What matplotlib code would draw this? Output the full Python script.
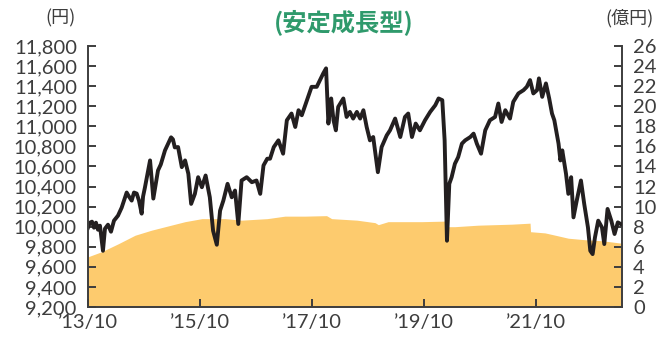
import matplotlib
matplotlib.use("Agg")
import matplotlib.pyplot as plt
from matplotlib.ticker import FuncFormatter

plt.rcParams['font.family'] = ['Lato', 'DejaVu Sans', 'Noto Sans CJK JP']

# months elapsed since 2013/10, and NAV (円)
nav_month = [0.0, 0.43, 0.86, 1.29, 1.71, 2.14, 2.57, 3.21, 3.64, 4.29, 4.93, 5.57,
             6.43, 7.22, 7.71, 8.29, 8.79, 9.36, 9.86, 10.43, 10.93, 11.5, 11.8, 12.2,
             12.9, 13.3, 13.7, 14.0, 14.6, 15.0, 15.6, 16.5, 17.1, 17.8, 18.2, 18.6,
             19.3, 20.1, 20.8, 21.5, 22.1, 22.9, 23.6, 24.4, 25.2, 26.1, 26.8, 27.6,
             28.3, 29.0, 29.9, 30.8, 31.5, 32.2, 32.9, 34.0, 35.1, 36.1, 36.9, 37.6,
             38.4, 39.0, 39.8, 40.8, 41.8, 42.6, 43.6, 44.4, 45.1, 45.8, 46.9, 47.9,
             49.0, 49.7, 50.4, 51.0, 51.5, 52.1, 52.6, 53.1, 53.6, 54.7, 55.4, 56.1,
             56.8, 57.6, 58.3, 59.0, 59.7, 60.4, 61.1, 62.1, 62.9, 64.0, 64.7, 65.8,
             66.9, 67.9, 68.6, 69.4, 70.2, 71.1, 72.2, 73.3, 74.4, 75.1, 75.9, 76.4,
             76.9, 77.4, 77.9, 78.6, 79.3, 80.1, 80.8, 81.9, 82.6, 83.3, 84.2, 85.1,
             86.1, 87.2, 87.9, 88.6, 89.4, 90.4, 91.1, 92.2, 93.3, 94.0, 94.7, 95.4,
             96.2, 96.6, 97.3, 98.1, 98.8, 99.4, 99.9, 100.8, 101.2, 101.6, 102.4, 102.9,
             103.5, 104.0, 104.7, 105.6, 106.3, 107.1, 107.6, 108.1, 108.6, 109.3, 110.1, 110.6,
             111.3, 112.1, 112.8, 113.5, 114.1]
nav = [9990, 10040, 10050, 9990, 10040, 9970, 10010, 9760, 9980, 10020, 9950, 10060,
       10110, 10190, 10260, 10340, 10300, 10260, 10340, 10330, 10260, 10130, 10300, 10390,
       10560, 10660, 10450, 10280, 10450, 10560, 10620, 10760, 10820, 10890, 10870, 10790,
       10793, 10593, 10660, 10527, 10227, 10327, 10493, 10393, 10510, 10293, 9960, 9820,
       10160, 10260, 10427, 10293, 10360, 10027, 10460, 10493, 10443, 10460, 10327, 10610,
       10677, 10677, 10793, 10860, 10727, 11060, 11127, 10993, 11160, 11110, 11260, 11393,
       11393, 11460, 11527, 11577, 11027, 11277, 11060, 10960, 11193, 11277, 11093, 11143,
       11077, 11143, 11077, 11160, 10993, 10860, 10893, 10543, 10793, 10910, 10960, 11077,
       10893, 11093, 11127, 10893, 11027, 10960, 11060, 11143, 11210, 11277, 11260, 10860,
       9860, 10427, 10493, 10627, 10693, 10827, 10860, 10893, 10927, 10827, 10727, 10960,
       11060, 11093, 11227, 11043, 11160, 11077, 11243, 11327, 11360, 11393, 11460, 11327,
       11360, 11477, 11293, 11427, 11277, 11127, 11060, 10827, 10660, 10760, 10527, 10327,
       10493, 10093, 10260, 10460, 10227, 9993, 9760, 9727, 9893, 10060, 9993, 9827,
       10177, 10060, 9927, 10043, 10027]

# net assets (億円)
asset_month = [0.0, 2.9, 6.5, 10.1, 13.6, 19.1, 20.8, 24.4, 29.4, 32.9, 38.4, 42.2,
               46.5, 51.1, 52.2, 57.6, 61.5, 62.2, 64.3, 71.5, 76.1, 76.8, 76.9, 78.6,
               83.6, 90.8, 94.7, 94.8, 97.9, 100.1, 102.9, 106.5, 110.1, 114.4]
assets = [5.0, 5.5, 6.3, 7.15, 7.65, 8.3, 8.5, 8.8, 8.8, 8.65, 8.8, 9.05,
          9.05, 9.1, 8.8, 8.65, 8.4, 8.2, 8.5, 8.5, 8.55, 8.6, 8.0, 8.0,
          8.15, 8.25, 8.35, 7.5, 7.38, 7.15, 6.85, 6.7, 6.6, 6.35]

tick_month = [0, 24, 48, 72, 96]
tick_labels = ["’13/10", "’15/10", "’17/10", "’19/10", "’21/10"]

text_col = '#3d3d3d'
fig = plt.figure(figsize=(6.7, 3.38), dpi=100)
ax = fig.add_axes([0.1313, 0.0917, 0.7971, 0.7723])
ax2 = ax.twinx()

ax2.fill_between(asset_month, assets, 0, color='#fdcb6e', linewidth=0)
ax.plot(nav_month, nav, color='#231f20', linewidth=2.8, solid_joinstyle='round')

ax.set_zorder(2)
ax.patch.set_visible(False)
ax2.set_zorder(1)

ax.set_xlim(0, 114.4)
ax.set_ylim(9200, 11800)
ax2.set_ylim(0, 26)
ax.set_yticks(range(9200, 11801, 200))
ax2.set_yticks(range(0, 27, 2))
ax.yaxis.set_major_formatter(FuncFormatter(lambda v, p: f"{int(v):,}"))
ax.set_xticks(tick_month)
ax.set_xticklabels(tick_labels)

for a in (ax, ax2):
    a.spines['top'].set_visible(False)
    for s in a.spines.values():
        s.set_color(text_col)
        s.set_linewidth(1.4)
    a.tick_params(direction='in', length=6, width=1.4, color=text_col,
                  labelcolor=text_col, labelsize=14.5, pad=8)
ax.spines['right'].set_visible(False)
ax2.spines['left'].set_visible(False)
ax2.spines['bottom'].set_visible(False)
ax.tick_params(axis='x', pad=5)

fig.text(0.09, 0.945, '(円)', ha='center', va='center', fontsize=13,
         color=text_col, family=['Noto Sans CJK JP'])
fig.text(0.94, 0.945, '(億円)', ha='center', va='center', fontsize=13,
         color=text_col, family=['Noto Sans CJK JP'])
fig.text(0.513, 0.935, '(安定成長型)', ha='center', va='center', fontsize=17.5,
         fontweight='bold', color='#2f9a6c', family=['Noto Sans CJK JP'])

fig.savefig('out.png', dpi=100)
